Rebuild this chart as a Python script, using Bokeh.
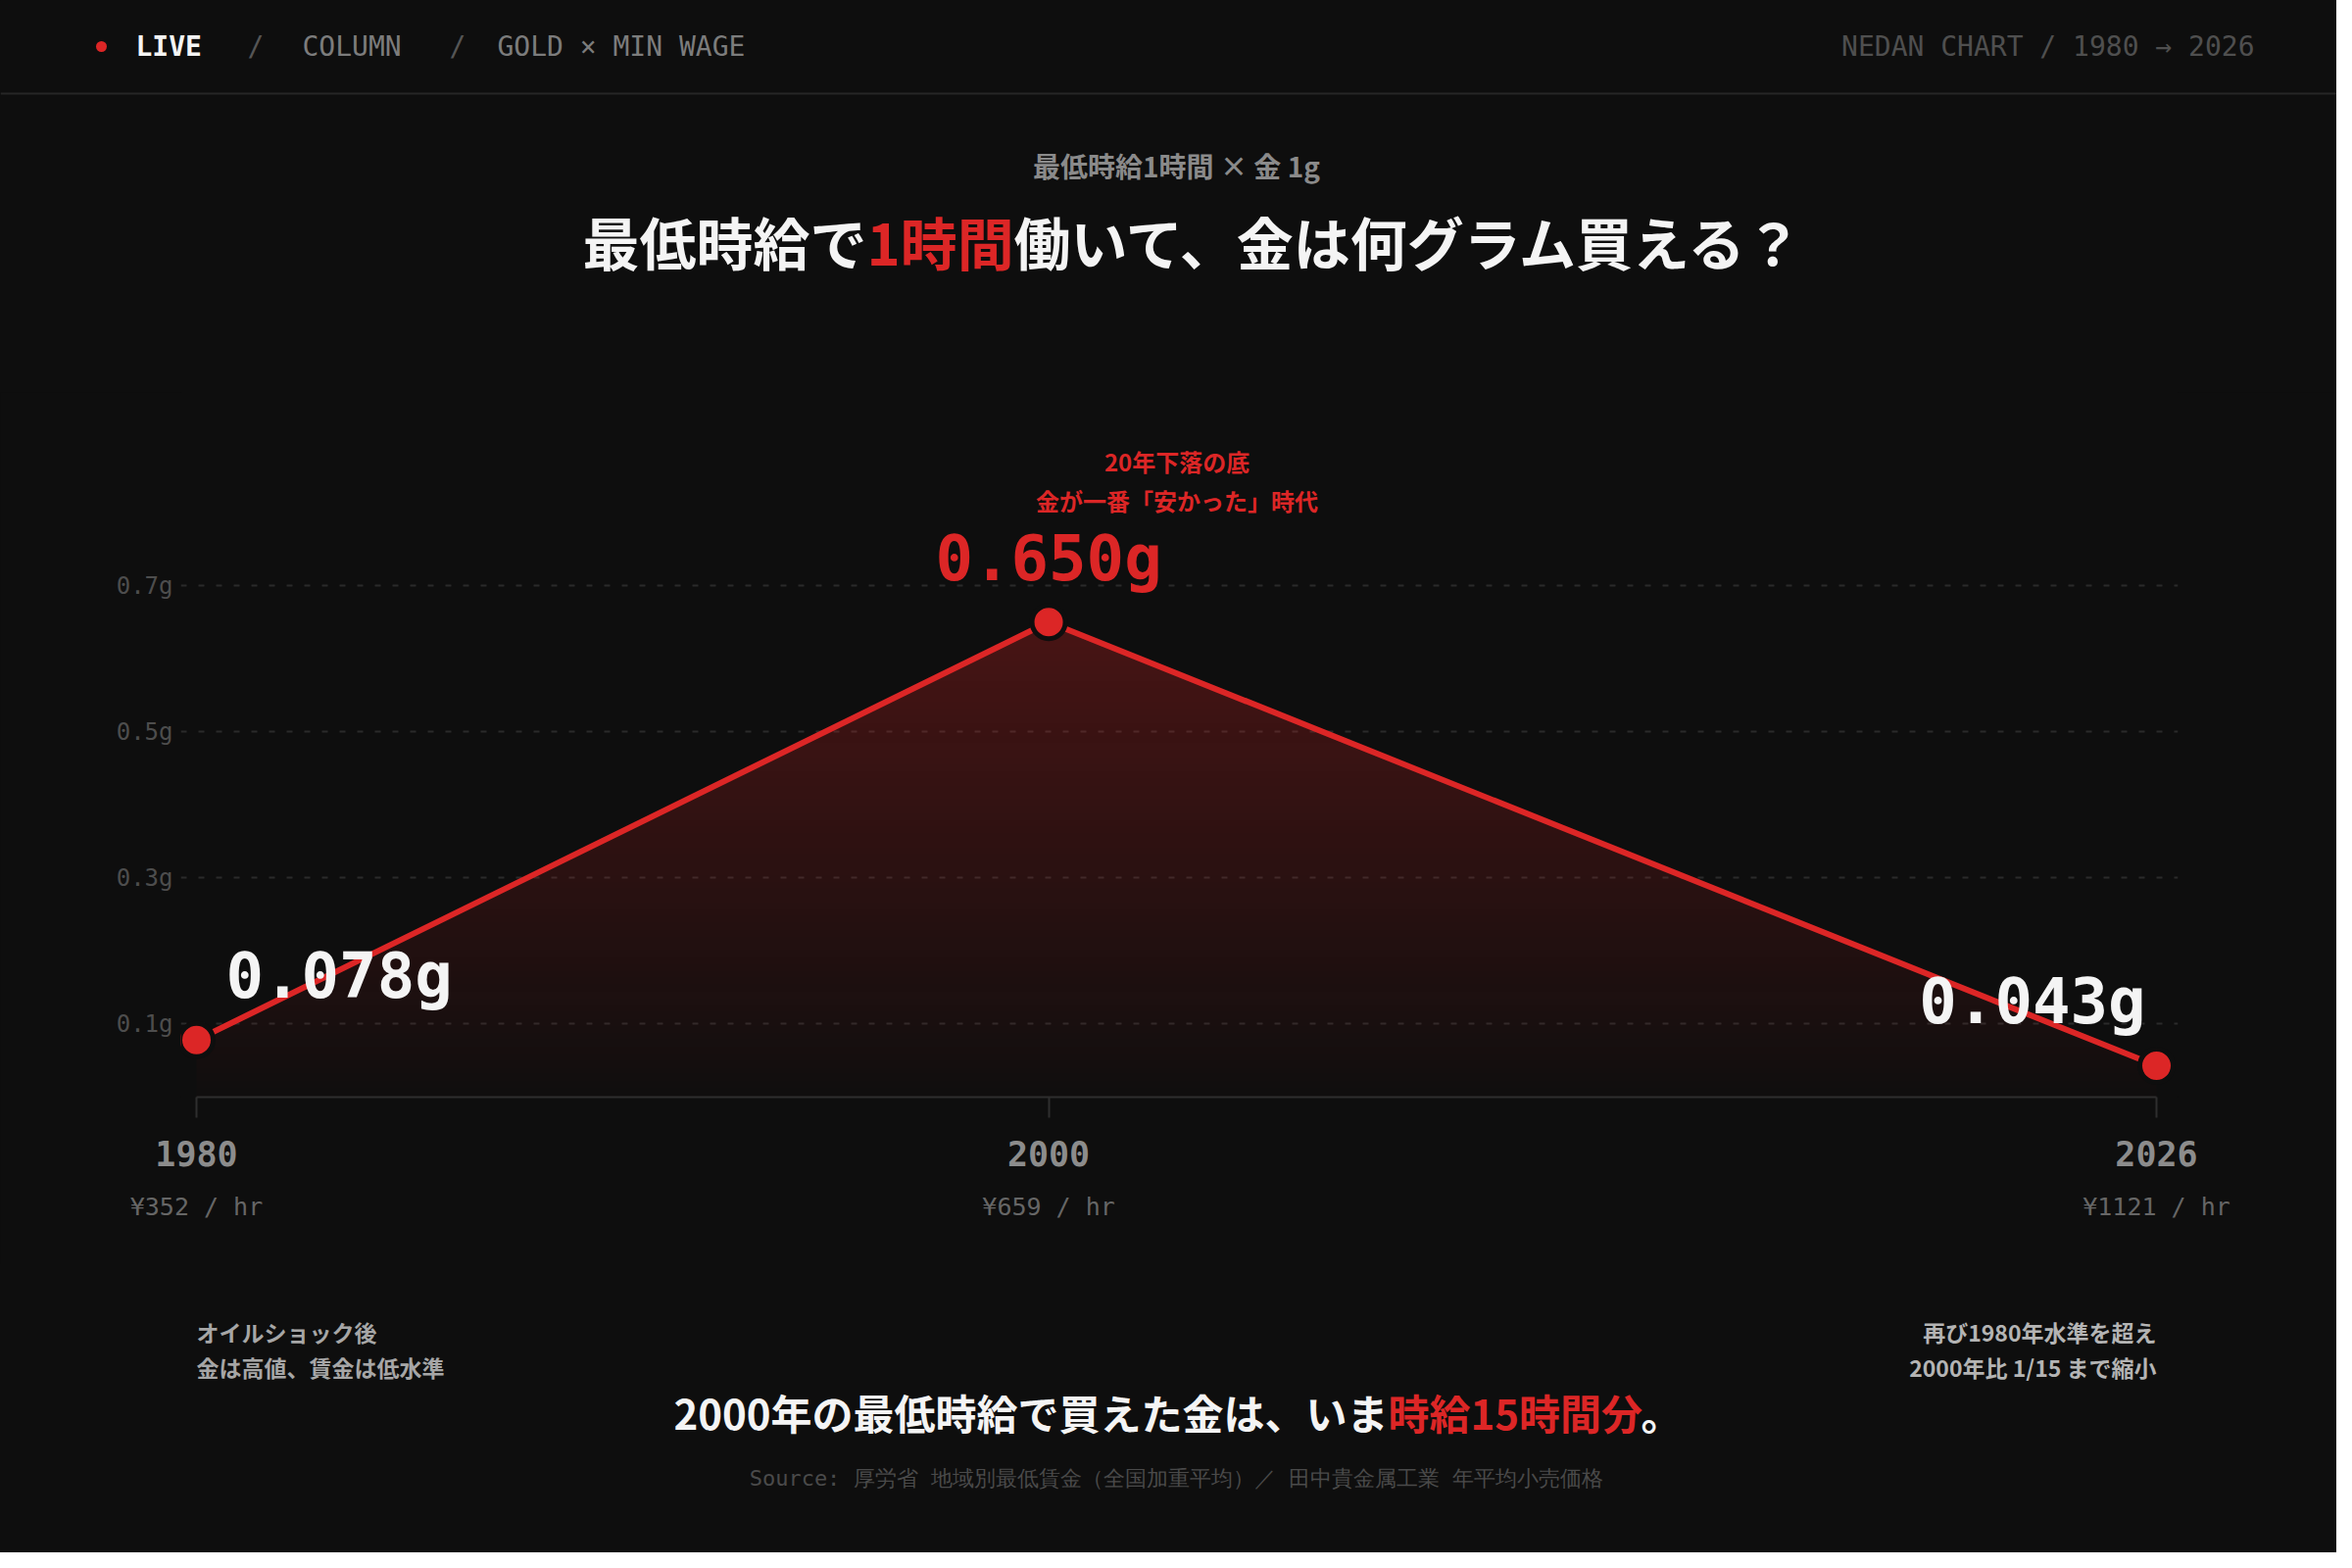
import numpy as np
from bokeh.plotting import figure
from bokeh.layouts import column
from bokeh.models import (Range1d, FixedTicker, PrintfTickFormatter, LinearAxis, ColumnDataSource)
from bokeh.core.properties import value
from bokeh.embed import file_html
from bokeh.resources import INLINE

# ---------------- data ----------------
years = [1980, 2000, 2026]
grams = [0.078, 0.650, 0.043]
wages = [352, 659, 1121]
y_ticks = [0.1, 0.3, 0.5, 0.7]
gram_labels = [f"{g:.3f}g" for g in grams]
wage_labels = [f"¥{w} / hr" for w in wages]

# ---------------- style ----------------
BG = "#0e0e0e"
RED = "#dc2626"
WHITE = "#f4f4f4"
MONO = "DejaVu Sans Mono"
JP = "Noto Sans CJK JP"
DARK = {"background-color": BG}

W = 2384
TOP_H = 400                 # header / title band
MAIN_TOP = TOP_H
BASE = 1119                 # canvas px of 0 g
MAIN_BOTTOM_BORDER = 170
MAIN_H = BASE - MAIN_TOP + MAIN_BOTTOM_BORDER
BOT_Y0 = MAIN_TOP + MAIN_H
BOT_H = 1584 - BOT_Y0

X0, X1 = 200, 2200          # canvas px of first / last year
PXY = (X1 - X0) / (years[-1] - years[0])
PXG = 745.7                 # px per gram
FR_L, FR_R = 184, 2222


def X(px):
    return years[0] + (px - X0) / PXY


def Y(py):
    return (BASE - py) / PXG


def band(height):
    f = figure(width=W, height=height, output_backend="svg", toolbar_location=None,
               x_range=Range1d(0, W), y_range=Range1d(height, 0),
               x_axis_type=None, y_axis_type=None, min_border=0, frame_align=False,
               background_fill_color=BG, border_fill_color=BG, styles=DARK)
    f.outline_line_color = None
    f.grid.visible = False
    return f


def txt(fig, text, x, y, size, color, font=MONO, style="normal", align="left"):
    fig.text(x=[x], y=[y], text=[text], text_font=value(font),
             text_font_size=value(f"{size}px"), text_font_style=style,
             text_color=color, text_align=align, text_baseline="middle")


# ================= top band =================
top = band(TOP_H)
top.segment(x0=[0], y0=[95], x1=[W], y1=[95], line_color="#262626", line_width=2)
top.scatter(x=[103], y=[47], size=11, fill_color=RED, line_color=None)
txt(top, "LIVE", 138, 47, 28, WHITE, style="bold")
txt(top, "/", 252, 47, 28, "#555555")
txt(top, "COLUMN", 308, 47, 28, "#7c7c7c")
txt(top, "/", 458, 47, 28, "#555555")
txt(top, "GOLD × MIN WAGE", 507, 47, 28, "#7c7c7c")
txt(top, "NEDAN CHART / 1980 → 2026", 2300, 47, 28, "#4f4f4f", align="right")

txt(top, "最低時給1時間 × 金 1g", 1200, 168, 28, "#8a8a8a", font=JP, style="bold", align="center")
A1, B1 = 884, 1034
txt(top, "最低時給で", A1, 245, 58, WHITE, font=JP, style="bold", align="right")
txt(top, "1時間", A1, 245, 58, RED, font=JP, style="bold")
txt(top, "働いて、金は何グラム買える？", B1, 245, 58, WHITE, font=JP, style="bold")

# ================= main chart =================
p = figure(width=W, height=MAIN_H, output_backend="svg", toolbar_location=None,
           x_range=Range1d(X(FR_L), X(FR_R)), y_range=Range1d(0, Y(MAIN_TOP)),
           min_border_left=FR_L, min_border_right=W - FR_R,
           min_border_top=0, min_border_bottom=MAIN_BOTTOM_BORDER, frame_align=False,
           background_fill_color=BG, border_fill_color=BG, styles=DARK)
p.outline_line_color = None

p.xgrid.visible = False
p.ygrid.ticker = FixedTicker(ticks=y_ticks)
p.ygrid.grid_line_color = "#2a2a2a"
p.ygrid.grid_line_width = 2
p.ygrid.grid_line_dash = "6 12"

p.yaxis.ticker = FixedTicker(ticks=y_ticks)
p.yaxis.formatter = PrintfTickFormatter(format="%.1fg")
p.yaxis.axis_line_color = None
p.yaxis.major_tick_line_color = None
p.yaxis.minor_tick_line_color = None
p.yaxis.major_label_text_font = MONO
p.yaxis.major_label_text_font_size = "24px"
p.yaxis.major_label_text_color = "#4d4d4d"
p.yaxis.major_label_standoff = 2

p.xaxis.ticker = FixedTicker(ticks=years)
p.xaxis.formatter = PrintfTickFormatter(format="%d")
p.xaxis.bounds = (years[0], years[-1])
p.xaxis.axis_line_color = "#2e2e2e"
p.xaxis.axis_line_width = 2
p.xaxis.major_tick_line_color = "#2e2e2e"
p.xaxis.major_tick_line_width = 2
p.xaxis.major_tick_in = 0
p.xaxis.major_tick_out = 21
p.xaxis.minor_tick_line_color = None
p.xaxis.major_label_text_font = MONO
p.xaxis.major_label_text_font_style = "bold"
p.xaxis.major_label_text_font_size = "35px"
p.xaxis.major_label_text_color = "#8c8c8c"
p.xaxis.major_label_standoff = 23

wax = LinearAxis(ticker=FixedTicker(ticks=years),
                 major_label_overrides={y: t for y, t in zip(years, wage_labels)},
                 axis_line_color=None, major_tick_line_color=None, minor_tick_line_color=None,
                 major_label_text_font=MONO, major_label_text_font_size="25px",
                 major_label_text_color="#666666", major_label_standoff=18)
p.add_layout(wax, "below")

# gradient area under the line
nx, ny = 1000, 330
ymax = max(grams)
xs = np.linspace(years[0], years[-1], nx)
ys = np.linspace(0, ymax, ny)
topline = np.interp(xs, years, grams)
alpha = 0.015 + 0.27 * ys / ymax
A = np.where(ys[:, None] <= topline[None, :], alpha[:, None], 0.0)
img = np.zeros((ny, nx), dtype=np.uint32)
view = img.view(dtype=np.uint8).reshape((ny, nx, 4))
view[..., 0] = 220
view[..., 1] = 38
view[..., 2] = 38
view[..., 3] = (A * 255).astype(np.uint8)
p.image_rgba(image=[img], x=years[0], y=0, dw=years[-1] - years[0], dh=ymax)

p.line(years, grams, line_color=RED, line_width=6)
p.scatter(years, grams, size=34, fill_color=RED, line_color=BG, line_width=5)

# value labels next to the points
dx_px = [30, 0, -11]
vsrc = ColumnDataSource(dict(
    x=[yr + d / PXY for yr, d in zip(years, dx_px)],
    y=[g + 65 / PXG for g in grams],
    t=gram_labels,
    c=[WHITE, RED, WHITE],
    a=["left", "center", "right"],
))
p.text(x="x", y="y", text="t", source=vsrc, text_color="c", text_align="a",
       text_font=value(MONO), text_font_size=value("64px"), text_font_style="bold",
       text_baseline="middle")

txt(p, "20年下落の底", years[1] + 131 / PXY, grams[1] + 164 / PXG, 24, RED, font=JP, style="bold", align="center")
txt(p, "金が一番「安かった」時代", years[1] + 131 / PXY, grams[1] + 124 / PXG, 24, RED, font=JP, style="bold", align="center")

# ================= bottom band =================
bot = band(BOT_H)


def by(py):
    return py - BOT_Y0


txt(bot, "オイルショック後", 200, by(1358), 23, "#a6a6a6", font=JP, style="bold")
txt(bot, "金は高値、賃金は低水準", 200, by(1394), 23, "#a6a6a6", font=JP, style="bold")
txt(bot, "再び1980年水準を超え", 2200, by(1358), 23, "#b4b4b4", font=JP, style="bold", align="right")
txt(bot, "2000年比 1/15 まで縮小", 2200, by(1394), 23, "#b4b4b4", font=JP, style="bold", align="right")

A2, B2 = 1416, 1674
txt(bot, "2000年の最低時給で買えた金は、いま", A2, by(1440), 42, WHITE, font=JP, style="bold", align="right")
txt(bot, "時給15時間分", A2, by(1440), 42, RED, font=JP, style="bold")
txt(bot, "。", B2, by(1440), 42, WHITE, font=JP, style="bold")

txt(bot, "Source: 厚労省 地域別最低賃金（全国加重平均）／ 田中貴金属工業 年平均小売価格",
    1200, by(1508), 22, "#4a4a4a", align="center")

layout = column(top, p, bot, spacing=0, styles=DARK)
open("out.html", "w").write(file_html(layout, INLINE))
